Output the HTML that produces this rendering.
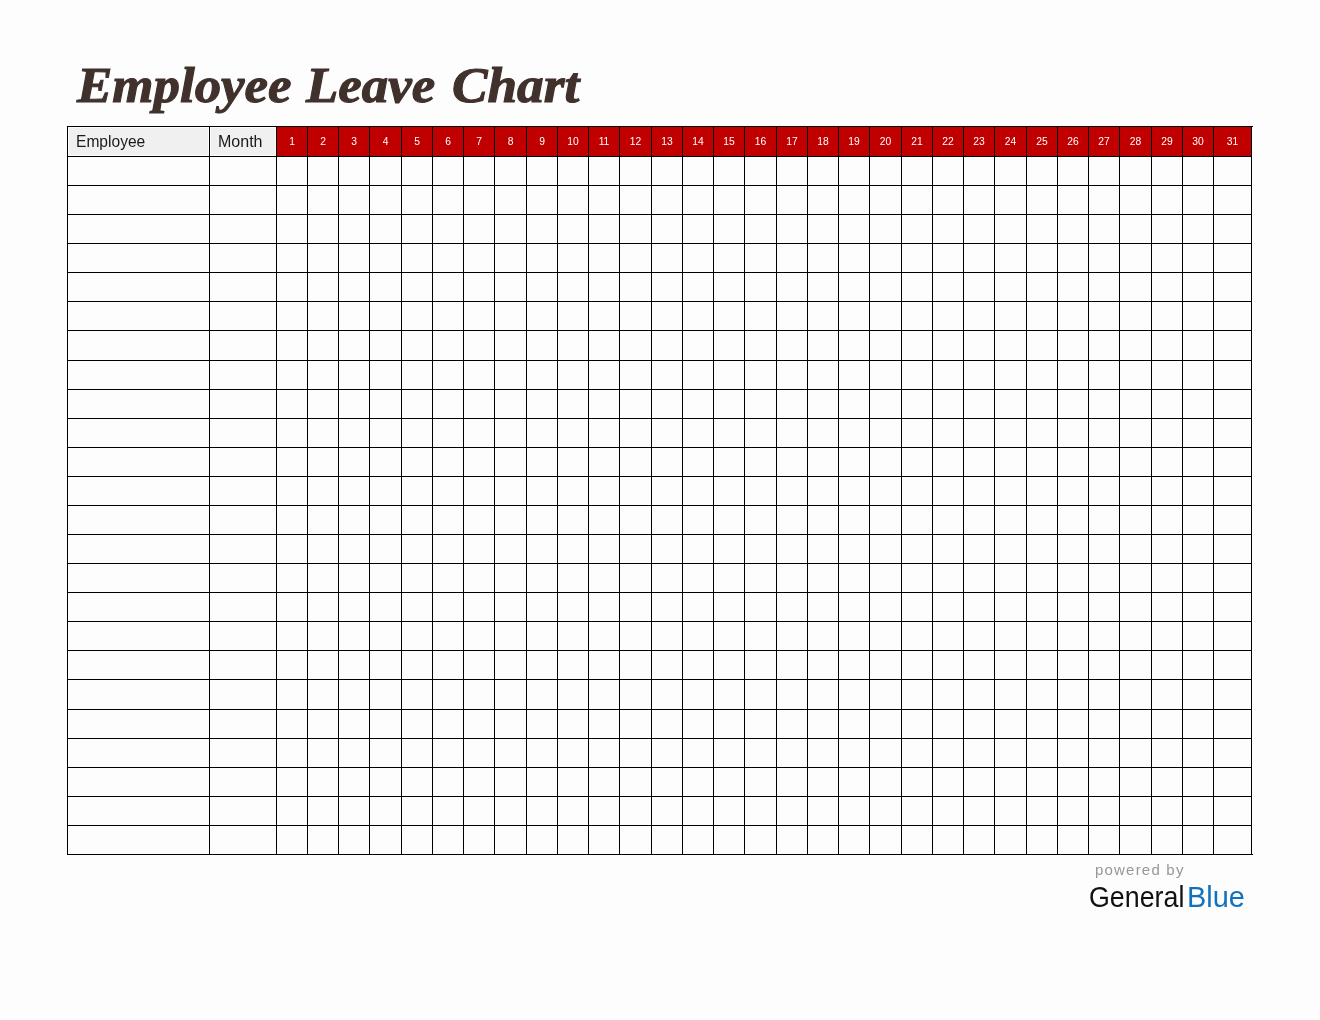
<!DOCTYPE html>
<html><head><meta charset="utf-8"><title>Employee Leave Chart</title>
<style>
html,body{margin:0;padding:0;}
body{will-change:transform;width:1320px;height:1020px;background:#fdfdfd;position:relative;overflow:hidden;font-family:"Liberation Sans",sans-serif;}
.a{position:absolute;}
.v{position:absolute;width:1px;background:#000;top:126px;height:729px;}
.h{position:absolute;height:1px;background:#000;left:67px;width:1185px;}
.d{position:absolute;top:127px;height:29px;line-height:29px;background:#c00000;color:#fff;font-size:10.3px;text-align:center;}
.hd{position:absolute;top:128px;height:27px;line-height:29px;background:#f0f0f0;color:#1a1a1a;font-size:16.2px;white-space:nowrap;}
.hd span{transform:scaleX(0.962) rotate(0.01deg);transform-origin:0 0;}
.t{position:absolute;top:0;left:0;white-space:nowrap;font-family:"Liberation Serif",serif;font-weight:bold;font-style:italic;color:#40312c;font-size:50.6px;line-height:60px;transform-origin:0 0;-webkit-text-stroke:1.1px #40312c;}
</style></head><body>
<div class="t" id="w1" style="left:76.9px;top:55px;transform:scaleX(1.046);">Employee</div>
<div class="t" id="w2" style="left:305.7px;top:55px;transform:scaleX(1.045);">Leave</div>
<div class="t" id="w3" style="left:452.0px;top:55px;transform:scaleX(1.052);">Chart</div>
<div class="hd" style="left:69px;width:139px;"><span class="a" id="he" style="left:7.3px;top:-1px;">Employee</span></div>
<div class="hd" style="left:211px;width:64px;"><span class="a" id="hm" style="left:7.2px;top:-1px;transform:scaleX(0.99) rotate(0.01deg);">Month</span></div>
<div class="d" style="left:277px;width:30px;">1</div>
<div class="d" style="left:308px;width:30px;">2</div>
<div class="d" style="left:339px;width:30px;">3</div>
<div class="d" style="left:370px;width:31px;">4</div>
<div class="d" style="left:402px;width:30px;">5</div>
<div class="d" style="left:433px;width:30px;">6</div>
<div class="d" style="left:464px;width:30px;">7</div>
<div class="d" style="left:495px;width:31px;">8</div>
<div class="d" style="left:527px;width:30px;">9</div>
<div class="d" style="left:558px;width:30px;">10</div>
<div class="d" style="left:589px;width:30px;">11</div>
<div class="d" style="left:620px;width:31px;">12</div>
<div class="d" style="left:652px;width:30px;">13</div>
<div class="d" style="left:683px;width:30px;">14</div>
<div class="d" style="left:714px;width:30px;">15</div>
<div class="d" style="left:745px;width:31px;">16</div>
<div class="d" style="left:777px;width:30px;">17</div>
<div class="d" style="left:808px;width:30px;">18</div>
<div class="d" style="left:839px;width:30px;">19</div>
<div class="d" style="left:870px;width:31px;">20</div>
<div class="d" style="left:902px;width:30px;">21</div>
<div class="d" style="left:933px;width:30px;">22</div>
<div class="d" style="left:964px;width:30px;">23</div>
<div class="d" style="left:995px;width:31px;">24</div>
<div class="d" style="left:1027px;width:30px;">25</div>
<div class="d" style="left:1058px;width:30px;">26</div>
<div class="d" style="left:1089px;width:30px;">27</div>
<div class="d" style="left:1120px;width:31px;">28</div>
<div class="d" style="left:1152px;width:30px;">29</div>
<div class="d" style="left:1183px;width:30px;">30</div>
<div class="d" style="left:1214px;width:37px;">31</div>
<div class="h" style="top:126px;width:1186px;"></div>
<div class="h" style="top:156px;"></div>
<div class="h" style="top:185px;"></div>
<div class="h" style="top:214px;"></div>
<div class="h" style="top:243px;"></div>
<div class="h" style="top:272px;"></div>
<div class="h" style="top:301px;"></div>
<div class="h" style="top:330px;"></div>
<div class="h" style="top:360px;"></div>
<div class="h" style="top:389px;"></div>
<div class="h" style="top:418px;"></div>
<div class="h" style="top:447px;"></div>
<div class="h" style="top:476px;"></div>
<div class="h" style="top:505px;"></div>
<div class="h" style="top:534px;"></div>
<div class="h" style="top:563px;"></div>
<div class="h" style="top:592px;"></div>
<div class="h" style="top:621px;"></div>
<div class="h" style="top:650px;"></div>
<div class="h" style="top:679px;"></div>
<div class="h" style="top:709px;"></div>
<div class="h" style="top:738px;"></div>
<div class="h" style="top:767px;"></div>
<div class="h" style="top:796px;"></div>
<div class="h" style="top:825px;"></div>
<div class="h" style="top:854px;width:1186px;"></div>
<div class="v" style="left:67px;"></div>
<div class="v" style="left:209px;"></div>
<div class="v" style="left:276px;"></div>
<div class="v" style="left:307px;"></div>
<div class="v" style="left:338px;"></div>
<div class="v" style="left:369px;"></div>
<div class="v" style="left:401px;"></div>
<div class="v" style="left:432px;"></div>
<div class="v" style="left:463px;"></div>
<div class="v" style="left:494px;"></div>
<div class="v" style="left:526px;"></div>
<div class="v" style="left:557px;"></div>
<div class="v" style="left:588px;"></div>
<div class="v" style="left:619px;"></div>
<div class="v" style="left:651px;"></div>
<div class="v" style="left:682px;"></div>
<div class="v" style="left:713px;"></div>
<div class="v" style="left:744px;"></div>
<div class="v" style="left:776px;"></div>
<div class="v" style="left:807px;"></div>
<div class="v" style="left:838px;"></div>
<div class="v" style="left:869px;"></div>
<div class="v" style="left:901px;"></div>
<div class="v" style="left:932px;"></div>
<div class="v" style="left:963px;"></div>
<div class="v" style="left:994px;"></div>
<div class="v" style="left:1026px;"></div>
<div class="v" style="left:1057px;"></div>
<div class="v" style="left:1088px;"></div>
<div class="v" style="left:1119px;"></div>
<div class="v" style="left:1151px;"></div>
<div class="v" style="left:1182px;"></div>
<div class="v" style="left:1213px;"></div>
<div class="v" style="left:1251px;"></div>
<div class="a" id="pb" style="left:1094.9px;top:860.3px;font-size:15px;line-height:20px;color:#979797;letter-spacing:1.22px;white-space:nowrap;">powered by</div>
<div class="a" id="gen" style="left:1088.6px;top:878.6px;font-size:30px;line-height:36px;color:#111;white-space:nowrap;transform-origin:0 0;transform:scaleX(0.894);">General</div>
<div class="a" id="blue" style="left:1187.2px;top:878.6px;font-size:30px;line-height:36px;color:#1072be;white-space:nowrap;transform-origin:0 0;transform:scaleX(0.962);">Blue</div>
</body></html>
